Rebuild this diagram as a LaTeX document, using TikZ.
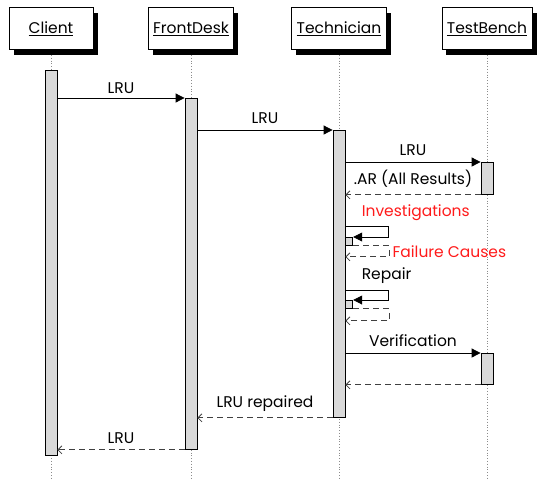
\documentclass[tikz,border=0pt]{standalone}
\usepackage{fontspec}
\setmainfont{Poppins}
\usepackage{tikz}
\usetikzlibrary{arrows.meta,positioning,calc,shadows}
\definecolor{actgray}{HTML}{D9D9D9}
\definecolor{lifegray}{HTML}{8C8C8C}
\definecolor{msgred}{HTML}{FF1A1A}

\begin{document}
\begin{tikzpicture}[
  x=1pt,y=-1pt,
  font=\fontsize{15.5}{18}\selectfont,
  head/.style={draw,fill=white,line width=0.8pt,minimum width=84pt,minimum height=42pt,inner xsep=5pt,
    drop shadow={shadow xshift=4.5pt,shadow yshift=-5pt,fill=black,opacity=1}},
  life/.style={draw=lifegray,dotted,line width=0.8pt},
  act/.style={draw,fill=actgray,line width=0.8pt,minimum width=12pt,inner sep=0pt,anchor=north},
  call/.style={-{Triangle[length=9pt,width=9pt]},line width=0.8pt},
  reply/.style={-{Straight Barb[length=4pt,width=8pt]},draw=black!75,dash pattern=on 6pt off 4pt,line width=0.8pt},
  msg/.style={above,inner sep=1pt,yshift=5pt,text=black}
]
\useasboundingbox (0,0) rectangle (537,480);
\coordinate (bottom) at (0,480);

\node[head] (client) at (51,28.5) {\underline{Client}};
\node[head] (desk) at (191,28.5) {\underline{FrontDesk}};
\node[head] (tech) at (339,28.5) {\underline{Technician}};
\node[head] (bench) at (487,28.5) {\underline{TestBench}};
\foreach \p in {client,desk,tech,bench}
  \draw[life] ([yshift=-5pt]\p.south) -- (\p.south |- bottom);

\node[act,minimum height=385pt] (clientact) at (51,70) {};
\node[act,minimum height=351pt] (deskact) at (191,98) {};
\node[act,minimum height=287pt] (techact) at (339,130) {};
\node[act,minimum height=32pt] (benchact) at (487,162) {};
\node[act,minimum height=31pt] (verifyact) at (487,353) {};
\node[act,anchor=north west,minimum width=7pt,minimum height=8pt] (invact) at ([yshift=-107pt]techact.north east) {};
\node[act,anchor=north west,minimum width=7pt,minimum height=8pt] (repact) at ([yshift=-170pt]techact.north east) {};

\draw[call] ([yshift=-28pt]clientact.north east) -- node[msg,yshift=-2pt] {LRU} (deskact.north west);
\draw[call] ([yshift=-32pt]deskact.north east) -- node[msg] {LRU} (techact.north west);
\draw[call] ([yshift=-32pt]techact.north east) -- node[msg] {LRU} (benchact.north west);
\draw[reply] (benchact.south west) -- node[msg,yshift=1pt] {.AR (All Results)} (benchact.south west -| techact.east);

\draw[call] ([yshift=-96pt]techact.north east) node[msg,anchor=south west,xshift=15pt,yshift=-1pt,text=msgred] {Investigations}
  -- ++(43,0) |- (invact.north east);
\draw[reply] (invact.south east) -- ++(36,0) -- ++(0,11) node[midway,right,inner sep=3pt,text=msgred] {Failure Causes}
  -- ([yshift=-11pt]invact.south west);
\draw[call] ([yshift=-160pt]techact.north east) node[msg,anchor=south west,xshift=15pt] {Repair}
  -- ++(43,0) |- (repact.north east);
\draw[reply] (repact.south east) -- ++(36,0) -- ++(0,12) -- ([yshift=-12pt]repact.south west);

\draw[call] (verifyact.north west -| techact.east) -- node[msg] {Verification} (verifyact.north west);
\draw[reply] (verifyact.south west) -- (verifyact.south west -| techact.east);
\draw[reply] (techact.south west) -- node[msg] {LRU repaired} (techact.south west -| deskact.east);
\draw[reply] (deskact.south west) -- node[msg] {LRU} (deskact.south west -| clientact.east);
\end{tikzpicture}
\end{document}
